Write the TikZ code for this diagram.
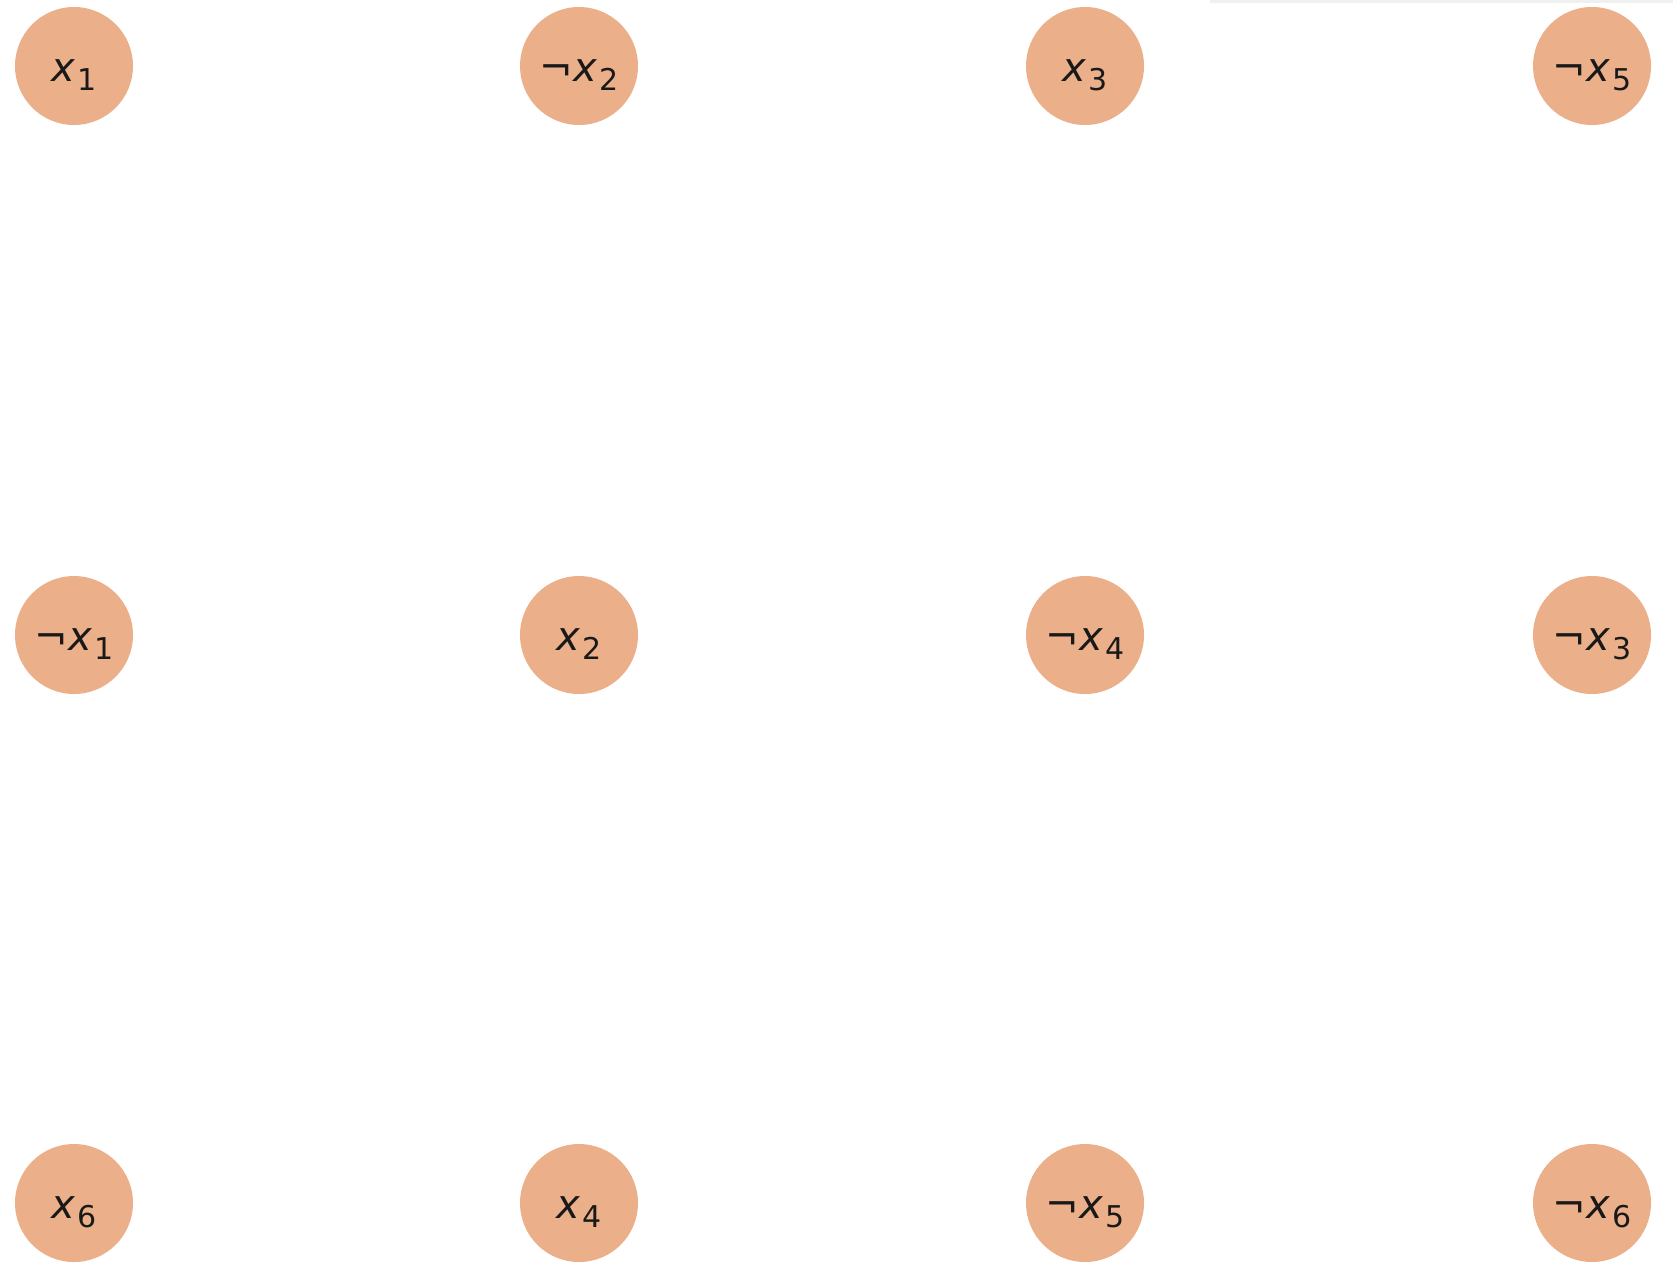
\documentclass[tikz,border=0pt]{standalone}
\usepackage{fontspec}
\newfontfamily\dv{DejaVu Sans}
\definecolor{nodefill}{RGB}{235,176,138}
\newcommand{\lit}[2]{{\fontsize{20pt}{20pt}\dv #1\itshape x\upshape\kern1pt\raisebox{-4.5pt}{\fontsize{15pt}{15pt}\selectfont #2}}}
\tikzset{
  lit/.style={circle, fill=nodefill, draw=none, minimum size=59pt, inner sep=0pt, text=black!90, text height=15pt, text depth=0pt},
}
\begin{document}
\begin{tikzpicture}[x=0.5pt,y=-0.5pt]
\useasboundingbox (0,0) rectangle (1673,1274);
\fill[white] (0,0) rectangle (1673,1274);
\draw[black!6, line width=1.5pt] (1210,1) -- (1673,1);
\node[lit] (a1) at (74,66) {\lit{}{1}};
\node[lit] (a2) at (579,66) {\lit{¬}{2}};
\node[lit] (a3) at (1085,66) {\lit{}{3}};
\node[lit] (a4) at (1592,66) {\lit{¬}{5}};
\node[lit] (b1) at (74,635) {\lit{¬}{1}};
\node[lit] (b2) at (579,635) {\lit{}{2}};
\node[lit] (b3) at (1085,635) {\lit{¬}{4}};
\node[lit] (b4) at (1592,635) {\lit{¬}{3}};
\node[lit] (c1) at (74,1203) {\lit{}{6}};
\node[lit] (c2) at (579,1203) {\lit{}{4}};
\node[lit] (c3) at (1085,1203) {\lit{¬}{5}};
\node[lit] (c4) at (1592,1203) {\lit{¬}{6}};
\end{tikzpicture}
\end{document}
